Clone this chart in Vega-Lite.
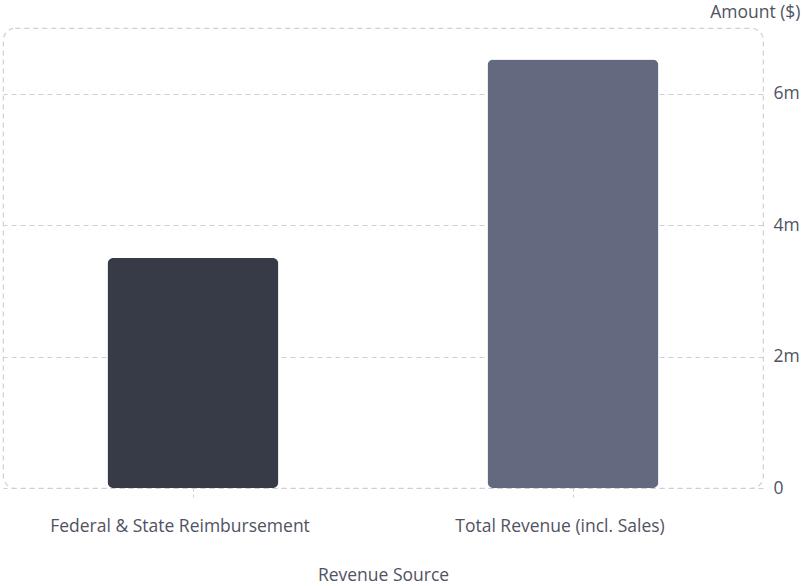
{
  "$schema": "https://vega.github.io/schema/vega-lite/v6.json",
  "autosize": "none",
  "width": 760,
  "height": 460,
  "padding": {"left": 3, "top": 28, "right": 41, "bottom": 98},
  "background": "#ffffff",
  "config": {
    "font": "Open Sans",
    "view": {"stroke": "#cfcfd4", "strokeDash": [5, 4], "strokeWidth": 1.2, "cornerRadius": 12}
  },
  "data": {
    "values": [
      {"source": "Federal & State Reimbursement", "amount": 3500000},
      {"source": "Total Revenue (incl. Sales)", "amount": 6520000}
    ]
  },
  "mark": {"type": "bar", "cornerRadius": 6},
  "encoding": {
    "x": {
      "field": "source",
      "type": "nominal",
      "sort": null,
      "scale": {"paddingInner": 0.55, "paddingOuter": 0.275},
      "axis": {
        "title": "Revenue Source",
        "labelAngle": 0,
        "labelFontSize": 17.5,
        "labelLimit": 0,
        "labelColor": "#50535f",
        "labelPadding": 17,
        "labelOffset": -13,
        "titleFontSize": 17.5,
        "titleFontWeight": "normal",
        "titleColor": "#50535f",
        "titlePadding": 32,
        "domain": false,
        "tickColor": "#cfcfd4",
        "tickDash": [3, 3],
        "tickSize": 12,
        "grid": false
      }
    },
    "y": {
      "field": "amount",
      "type": "quantitative",
      "scale": {"domain": [0, 7000000], "nice": false},
      "axis": {
        "orient": "right",
        "values": [0, 2000000, 4000000, 6000000],
        "labelExpr": "datum.value == 0 ? '0' : (datum.value / 1000000) + 'm'",
        "labelFontSize": 17.5,
        "labelColor": "#50535f",
        "labelPadding": 10,
        "ticks": false,
        "domain": false,
        "grid": true,
        "gridColor": "#cfcfd4",
        "gridDash": [5, 4],
        "gridWidth": 1.2,
        "title": "Amount ($)",
        "titleFontSize": 17.5,
        "titleFontWeight": "normal",
        "titleColor": "#50535f",
        "titleAngle": 0,
        "titleAlign": "right",
        "titleBaseline": "middle",
        "titleX": 37,
        "titleY": -16
      }
    },
    "color": {
      "field": "source",
      "type": "nominal",
      "scale": {"range": ["#373a47", "#636a80"]},
      "legend": null
    }
  }
}
